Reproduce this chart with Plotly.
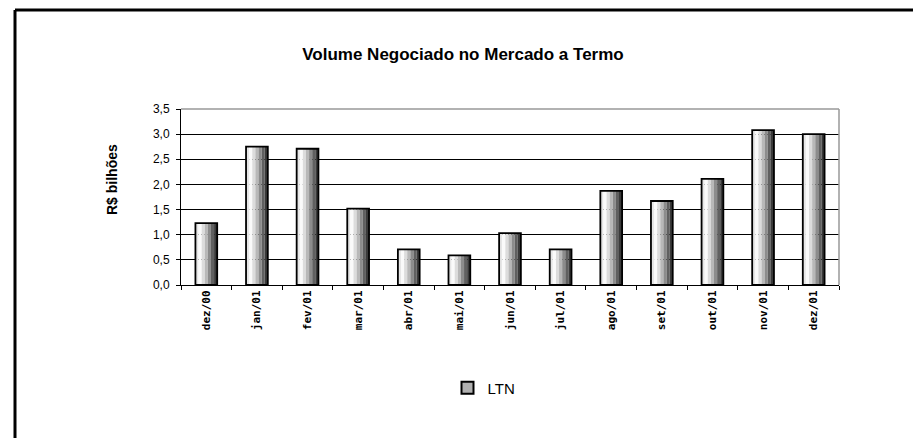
import plotly.graph_objects as go

categories = ["dez/00", "jan/01", "fev/01", "mar/01", "abr/01", "mai/01", "jun/01",
              "jul/01", "ago/01", "set/01", "out/01", "nov/01", "dez/01"]
ltn_values = [1.23, 2.75, 2.71, 1.52, 0.71, 0.59, 1.03, 0.71, 1.87, 1.67, 2.11, 3.08, 3.00]
y_ticks = [0, 0.5, 1.0, 1.5, 2.0, 2.5, 3.0, 3.5]

strip_colors = ["#e6e6e6", "#fafafa", "#dcdcdc", "#b8b8b8", "#8c8c8c", "#606060", "#3a3a3a"]
W = 0.43
n = len(strip_colors)

# page body has an 8px margin, so the figure is drawn at (8, 8)
FW, FH = 913, 430
L, R, T, B = 173, 82, 101, 153
PW = FW - L - R
PH = FH - T - B


def px_x(x):
    return (x - 8 - L) / PW


def px_y(y):
    return (FH - B - (y - 8)) / PH


fig = go.Figure()
for i, c in enumerate(strip_colors):
    fig.add_trace(go.Bar(
        x=categories, y=ltn_values, width=W / n, offset=-W / 2 + i * W / n,
        marker=dict(color=c, line=dict(width=0)), showlegend=False, hoverinfo="skip"))
fig.add_trace(go.Bar(
    x=categories, y=ltn_values, width=W, offset=-W / 2,
    marker=dict(color="rgba(0,0,0,0)", line=dict(color="black", width=1.8)),
    showlegend=False, name="LTN"))
fig.add_trace(go.Bar(
    x=categories, y=[None] * len(categories), name="LTN",
    marker=dict(color="#b0b0b0", line=dict(color="black", width=2)), showlegend=True))

fig.update_layout(
    width=FW, height=FH,
    barmode="overlay",
    separators=",.",
    paper_bgcolor="white", plot_bgcolor="white",
    margin=dict(l=L, r=R, t=T, b=B),
    font=dict(family="Liberation Sans, Arial, sans-serif", color="black"),
    title=dict(text="<b>Volume Negociado no Mercado a Termo</b>", x=px_x(463), xref="paper",
               xanchor="center", y=1 - (54 - 8) / FH, yanchor="middle", font=dict(size=17)),
    xaxis=dict(type="category", tickangle=-90,
               tickfont=dict(size=11, family="DejaVu Sans Mono", weight="bold"),
               showline=True, linecolor="black", linewidth=1, mirror=False,
               ticks="outside", tickson="boundaries", ticklen=4, tickcolor="black",
               showgrid=False),
    yaxis=dict(range=[0, 3.5], tickvals=y_ticks, tickformat=".1f",
               tickfont=dict(size=12), showline=True, linecolor="black", linewidth=1,
               ticks="outside", ticklen=4, tickcolor="black", ticklabelstandoff=4,
               showgrid=True, gridcolor="black", gridwidth=1, zeroline=False),
    annotations=[dict(text="<b>R$ bilhões</b>", xref="paper", yref="paper",
                      x=px_x(112), y=px_y(180), xanchor="center", yanchor="middle",
                      textangle=-90, showarrow=False, font=dict(size=14))],
    legend=dict(x=px_x(484), xanchor="center", y=px_y(388), yanchor="middle",
                orientation="h", font=dict(size=15), bgcolor="rgba(0,0,0,0)"),
    shapes=[
        dict(type="line", xref="paper", yref="paper", x0=1, x1=1, y0=0, y1=1,
             line=dict(color="#999999", width=1.5)),
        dict(type="line", xref="paper", yref="paper", x0=0, x1=1, y0=1, y1=1,
             line=dict(color="#999999", width=1.5)),
        dict(type="line", xref="paper", yref="paper", x0=px_x(15), x1=px_x(15),
             y0=px_y(460), y1=px_y(10), line=dict(color="black", width=3)),
        dict(type="line", xref="paper", yref="paper", x0=px_x(15), x1=px_x(960),
             y0=px_y(10), y1=px_y(10), line=dict(color="black", width=3)),
    ],
)

fig.write_html("out.html")
